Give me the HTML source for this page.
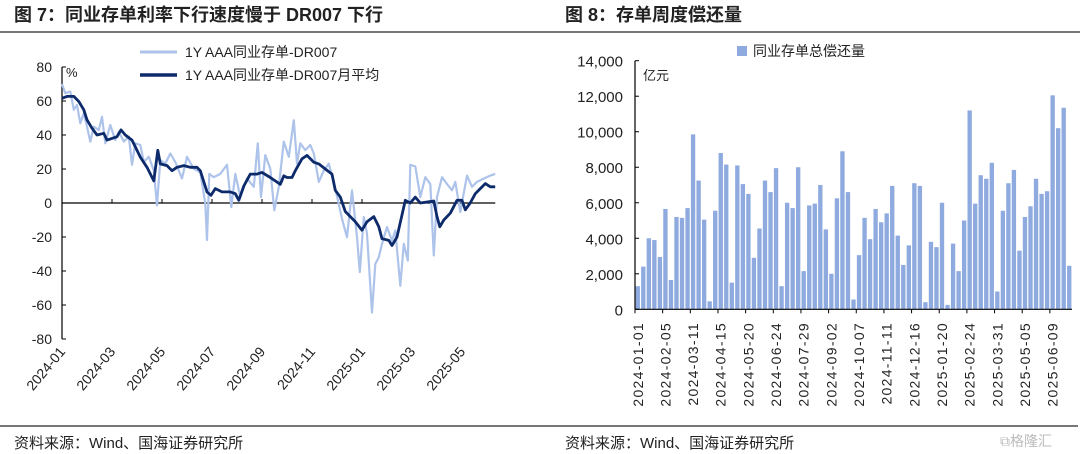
<!DOCTYPE html>
<html><head><meta charset="utf-8">
<style>
html,body{margin:0;padding:0;background:#fff;width:1080px;height:454px;overflow:hidden}
svg{display:block;font-family:"Liberation Sans","Noto Sans CJK SC",sans-serif}
</style></head>
<body>
<svg id="s" width="1080" height="454" viewBox="0 0 1080 454">
<text x="14" y="21" font-size="18" font-weight="bold" fill="#222">图 7：同业存单利率下行速度慢于 DR007 下行</text>
<text x="565" y="21" font-size="18" font-weight="bold" fill="#222">图 8：存单周度偿还量</text>
<line x1="0" y1="32" x2="1080" y2="32" stroke="#777" stroke-width="2"/>
<line x1="0" y1="426" x2="1078" y2="426" stroke="#777" stroke-width="2"/>
<text x="14" y="448" font-size="15" fill="#222">资料来源：Wind、国海证券研究所</text>
<text x="565" y="448" font-size="15" fill="#222">资料来源：Wind、国海证券研究所</text>
<text x="1000" y="446" font-size="14" fill="#bbb">⧉格隆汇</text>

<!-- left legend -->
<line x1="140" y1="52" x2="177" y2="52" stroke="#adc3ea" stroke-width="3"/>
<text x="185" y="57" font-size="14" fill="#222">1Y AAA同业存单-DR007</text>
<line x1="140" y1="75" x2="177" y2="75" stroke="#0d2a6b" stroke-width="3.5"/>
<text x="185" y="80" font-size="14" fill="#222">1Y AAA同业存单-DR007月平均</text>
<text x="66" y="77" font-size="13" fill="#222">%</text>

<!-- right legend -->
<rect x="737" y="46" width="10" height="10" fill="#8eaadf"/>
<text x="753" y="56" font-size="14" fill="#222">同业存单总偿还量</text>
<text x="643" y="80" font-size="13" fill="#222">亿元</text>
<g id="L"></g><g id="R"></g>
</svg>
<script>
// ---- left chart data (t = months since 2024-01-01) ----
const darkT=[0,.2,.47,.67,.87,1.0,1.2,1.4,1.67,1.8,2.0,2.2,2.36,2.53,2.8,3.0,3.13,3.4,3.67,3.83,3.93,4.2,4.4,4.6,4.87,5.13,5.4,5.53,5.8,5.96,6.13,6.4,6.73,6.93,7.07,7.27,7.53,7.8,8.0,8.33,8.73,8.87,9.0,9.2,9.33,9.6,9.8,10.07,10.27,10.53,10.8,10.93,11.13,11.33,11.53,11.73,12.0,12.2,12.47,12.67,12.8,13.07,13.2,13.4,13.6,13.73,13.93,14.13,14.33,14.6,14.87,15.0,15.11,15.27,15.53,15.8,16.0,16.13,16.33,16.53,16.73,16.93,17.13,17.33];
const darkV=[61.6,62.7,62.7,59.7,54.8,48.9,44,40,41,37,38,39,43,40,37,31,27,21,13,31,23,22,19,21,22,21,21,19,6.5,4.5,8.5,6.5,6.5,5.5,1.6,10,17,17,18,15,11,16,15,15,19,26,28,24,23,20,17,7.5,3.5,-5,-8,-11,-16,-11,-8,-14,-21,-22,-25,-20,-7,1.6,0,3.5,0,0.6,1.2,-8,-14,-10,-6,1.6,1.6,-4,0,5.5,8.5,11.4,9.5,9.5];
const lightT=[0,.13,.33,.47,.6,.73,.87,1.0,1.13,1.27,1.47,1.6,1.73,1.93,2.13,2.27,2.47,2.67,2.8,2.93,3.13,3.27,3.47,3.67,3.8,3.93,4.13,4.33,4.53,4.8,5.0,5.27,5.53,5.73,5.8,5.89,6.07,6.33,6.6,6.77,6.93,7.13,7.4,7.67,7.83,7.96,8.13,8.33,8.49,8.67,8.87,9.07,9.27,9.4,9.53,9.73,9.93,10.07,10.27,10.47,10.67,10.93,11.2,11.4,11.6,11.8,11.91,12.07,12.2,12.4,12.53,12.67,12.8,13.0,13.2,13.33,13.53,13.67,13.83,13.93,14.13,14.33,14.53,14.73,14.87,15.0,15.2,15.4,15.6,15.73,15.93,16.2,16.4,16.6,16.87,17.13,17.33];
const lightV=[70,64.6,65.6,54.8,57.7,46.9,52.8,44.9,36.1,44.9,42.9,50.7,35.1,45.9,37,41.9,36.1,39,22.5,35.1,34.1,24.1,27.2,19.1,-1.4,25.2,23.2,29.1,24.1,14.4,27.2,20.1,18.1,-0.4,-21.7,17.1,15.2,17.1,22.5,-2.4,17.1,3.5,14.4,9.5,35.1,3.5,28.2,20.1,-4.3,9.5,36.1,27.2,48.7,23.2,35.1,31.1,34.1,29.1,12.4,19.1,23.2,8.5,-9.3,-20.1,7.5,-20.1,-40.6,-8.3,-18.1,-64.4,-35.9,-31.9,-24,-14.2,-22.1,-16.2,-48.7,-24,-33.9,22.5,21.5,3.5,15.2,11.2,-30.9,3.5,15.2,11.2,7.5,12.4,-5.3,16.1,9.5,12.4,14.4,16.1,17.1];
const leftYTicks=[80,60,40,20,0,-20,-40,-60,-80];
const leftXLabels=["2024-01","2024-03","2024-05","2024-07","2024-09","2024-11","2025-01","2025-03","2025-05"];
const leftXTickT=[0,2,4,6,8,10,12,14,16];
// ---- right chart data ----
const weekLabels=["2024-01-01","2024-02-05","2024-03-11","2024-04-15","2024-05-20","2024-06-24","2024-07-29","2024-09-02","2024-10-07","2024-11-11","2024-12-16","2025-01-20","2025-02-24","2025-03-31","2025-05-05","2025-06-09"];
const repay=[1300,2400,4000,3900,2950,5650,1650,5200,5150,5700,9850,7250,5050,450,5550,8800,8150,1500,8100,7050,6500,2900,4550,7250,6600,7950,1300,6000,5700,8000,2150,5850,5950,7000,4500,2000,6250,8900,6600,550,3050,5150,3950,5650,4900,5400,6950,4150,2500,3600,7100,6950,400,3800,3500,6000,250,3700,2150,5000,11200,5950,7550,7350,8250,1000,5550,7100,7850,3300,5200,5800,7350,6500,6650,12050,10200,11350,2450];
const rightYTicks=[0,2000,4000,6000,8000,10000,12000,14000];

const NS="http://www.w3.org/2000/svg";
function mk(tag,attrs,parent){const e=document.createElementNS(NS,tag);for(const k in attrs)e.setAttribute(k,attrs[k]);parent.appendChild(e);return e;}
// left axes
const L=document.getElementById('L');
const lx=t=>62+t*25, ly=v=>203-v*1.7;
let ax=mk('line',{x1:62,y1:ly(80),x2:62,y2:ly(-80),stroke:'#000','stroke-width':1.2},L);


leftYTicks.forEach(v=>{
  let tk=mk('line',{x1:62,y1:ly(v),x2:66,y2:ly(v),stroke:'#000'},L);
  
  
  let t=mk('text',{x:52,y:ly(v)+5,'font-size':14,'text-anchor':'end',fill:'#222'},L);t.textContent=v;
  
  
});
let zx=mk('line',{x1:62,y1:ly(0),x2:lx(17.33),y2:ly(0),stroke:'#000','stroke-width':1.2},L);


leftXLabels.forEach((s,i)=>{
  const x=lx(leftXTickT[i]);
  let tk=mk('line',{x1:x,y1:ly(0),x2:x,y2:ly(0)-4,stroke:'#000'},L);
  
  
  let t=mk('text',{x:x+4,y:352,'font-size':14,'text-anchor':'end',fill:'#222',transform:`rotate(-50 ${x+4} 352)`},L);t.textContent=s;
  
  
});
function path(T,V){return T.slice(0,Math.min(T.length,V.length)).map((t,i)=>(i?'L':'M')+lx(t).toFixed(1)+','+ly(V[i]).toFixed(1)).join('');}
let pl=mk('path',{d:path(lightT,lightV),fill:'none',stroke:'#adc3ea','stroke-width':2.2,'stroke-linejoin':'round'},L);


let pd=mk('path',{d:path(darkT,darkV),fill:'none',stroke:'#0d2a6b','stroke-width':2.8,'stroke-linejoin':'round'},L);


// right chart
const R=document.getElementById('R');
const x0=635,x1=1072,bw=(x1-x0)/repay.length;
const ry=v=>309.3-v*(248.6/14000);
repay.forEach((v,i)=>{
  let b=mk('rect',{x:x0+i*bw+0.6,y:ry(v),width:bw-1.2,height:309.3-ry(v),fill:'#8eaadf'},R);
  
  
});
let ry1=mk('line',{x1:x0,y1:ry(14000),x2:x0,y2:ry(0),stroke:'#000','stroke-width':1.2},R);


rightYTicks.forEach(v=>{
  let tk=mk('line',{x1:x0,y1:ry(v),x2:x0+4,y2:ry(v),stroke:'#000'},R);
  
  
  let t=mk('text',{x:623,y:ry(v)+6,'font-size':15,'text-anchor':'end',fill:'#222'},R);t.textContent=v.toLocaleString('en-US');
  
  
});
let rx=mk('line',{x1:x0,y1:ry(0),x2:x1,y2:ry(0),stroke:'#000','stroke-width':1.2},R);


weekLabels.forEach((s,i)=>{
  const x=x0+i*5*bw+bw/2;
  let tk=mk('line',{x1:x0+i*5*bw,y1:ry(0),x2:x0+i*5*bw,y2:ry(0)+4,stroke:'#000'},R);
  
  
  let t=mk('text',{x:x+5,y:322,'font-size':14,'letter-spacing':'1.3','text-anchor':'end',fill:'#222',transform:`rotate(-90 ${x+5} 322)`},R);t.textContent=s;
  
  
});
</script>
</body></html>
